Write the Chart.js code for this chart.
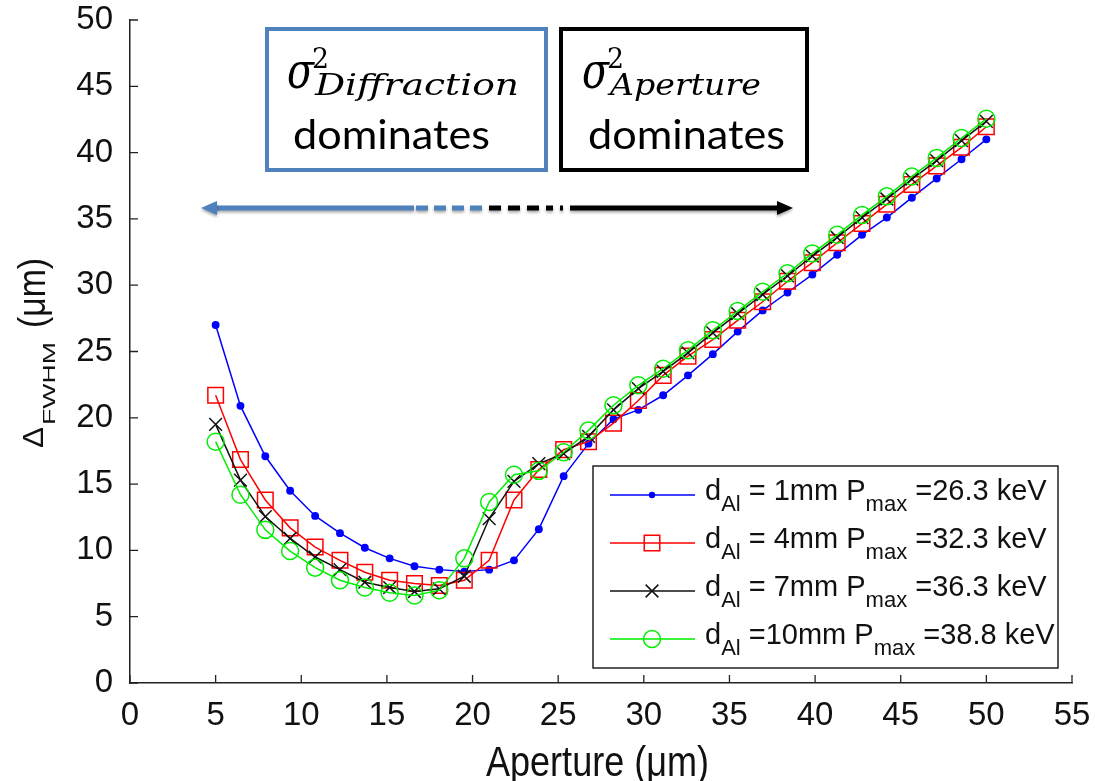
<!DOCTYPE html>
<html lang="en">
<head>
  <meta charset="UTF-8">
  <title>FWHM vs Aperture</title>
  <script src="https://cdn.jsdelivr.net/npm/chart.js"></script>
  <style>
    body { margin: 0; background: #fff; }
    canvas { display: block; }
  </style>
</head>
<body>
  <canvas id="fwhmChart" width="1095" height="781"></canvas>

  <script>
    // aperture values (um)
    const apertures = [5, 6.45, 7.9, 9.35, 10.81, 12.26, 13.71, 15.16, 16.61, 18.06, 19.52, 20.97,
      22.42, 23.87, 25.32, 26.77, 28.23, 29.68, 31.13, 32.58, 34.03, 35.48, 36.94, 38.39,
      39.84, 41.29, 42.74, 44.19, 45.65, 47.1, 48.55, 50];

    // FWHM (um) for each Al filter thickness
    const fwhm1mm = [27.0, 20.9, 17.1, 14.5, 12.6, 11.3, 10.2, 9.4, 8.8, 8.55, 8.4, 8.55,
      9.25, 11.6, 15.6, 18.05, 19.9, 20.6, 21.7, 23.2, 24.8, 26.5, 28.1, 29.45,
      30.8, 32.3, 33.8, 35.1, 36.6, 38.05, 39.5, 41.0];
    const fwhm4mm = [21.7, 16.85, 13.8, 11.7, 10.25, 9.25, 8.35, 7.75, 7.5, 7.35, 7.75, 9.25,
      13.8, 16.1, 17.6, 18.2, 19.6, 21.3, 23.2, 24.65, 25.9, 27.35, 28.75, 30.3,
      31.7, 33.2, 34.65, 36.1, 37.6, 39.0, 40.4, 41.95];
    const fwhm7mm = [19.5, 15.3, 12.55, 10.9, 9.5, 8.55, 7.6, 7.2, 6.9, 7.1, 8.05, 12.4,
      15.2, 16.55, 17.3, 18.6, 20.6, 22.2, 23.5, 24.9, 26.4, 27.85, 29.3, 30.7,
      32.2, 33.6, 35.1, 36.5, 38.0, 39.4, 40.9, 42.35];
    const fwhm10mm = [18.2, 14.2, 11.55, 9.95, 8.7, 7.75, 7.2, 6.8, 6.6, 7.0, 9.4, 13.65,
      15.7, 16.0, 17.4, 19.05, 20.95, 22.45, 23.7, 25.1, 26.6, 28.05, 29.5, 30.9,
      32.4, 33.8, 35.3, 36.7, 38.2, 39.6, 41.1, 42.55];

    // legend text pieces
    const legendThickness = ['= 1mm', '= 4mm', '= 7mm', '=10mm'];
    const legendPmax = ['=26.3 keV', '=32.3 keV', '=36.3 keV', '=38.8 keV'];

    const xTicks = { min: 0, max: 55, step: 5 };
    const yTicks = { min: 0, max: 50, step: 5 };

    const NARROW = "'Liberation Sans Narrow', 'Liberation Sans', Arial, sans-serif";
    const SANS = "'Liberation Sans', Arial, sans-serif";
    const SERIF = "'DejaVu Serif', 'Liberation Serif', serif";
    const CALI = "Lato, 'Open Sans', sans-serif";
    const BOXBLUE = '#4f81bd';

    const toPoints = ys => apertures.map((x, i) => ({ x: x, y: ys[i] }));

    const series = [
      { data: fwhm1mm, color: '#0000ff', style: 'circle', radius: 3.2, fill: true, order: 4 },
      { data: fwhm4mm, color: '#ff0000', style: 'rect', radius: 11, fill: false, order: 3 },
      { data: fwhm7mm, color: '#111111', style: 'crossRot', radius: 9, fill: false, order: 2 },
      { data: fwhm10mm, color: '#00ee00', style: 'circle', radius: 8.5, fill: false, order: 1 }
    ];

    // draw text squeezed / stretched horizontally to a given width
    function fitText(ctx, text, x, y, w) {
      const m = ctx.measureText(text).width;
      ctx.save();
      ctx.translate(x, y);
      ctx.scale(w / m, 1);
      ctx.fillText(text, 0, 0);
      ctx.restore();
    }

    function marker(ctx, s, x, y) {
      ctx.save();
      ctx.strokeStyle = s.color;
      ctx.fillStyle = s.color;
      ctx.lineWidth = 1.5;
      ctx.beginPath();
      if (s.style === 'circle') {
        ctx.arc(x, y, s.radius, 0, Math.PI * 2);
        if (s.fill) ctx.fill(); else ctx.stroke();
      } else if (s.style === 'rect') {
        const h = s.radius * Math.SQRT1_2;
        ctx.rect(x - h, y - h, 2 * h, 2 * h);
        ctx.stroke();
      } else {
        const h = s.radius * Math.SQRT1_2;
        ctx.moveTo(x - h, y - h); ctx.lineTo(x + h, y + h);
        ctx.moveTo(x - h, y + h); ctx.lineTo(x + h, y - h);
        ctx.stroke();
      }
      ctx.restore();
    }

    const decor = {
      id: 'decor',
      afterDraw(chart) {
        const ctx = chart.ctx;
        const xs = chart.scales.x, ys = chart.scales.y;
        const area = chart.chartArea;

        // inward tick marks
        ctx.save();
        ctx.strokeStyle = '#222';
        ctx.lineWidth = 1.3;
        ctx.beginPath();
        xs.ticks.forEach(t => {
          const px = xs.getPixelForValue(t.value);
          ctx.moveTo(px, area.bottom);
          ctx.lineTo(px, area.bottom - 8);
        });
        ys.ticks.forEach(t => {
          const py = ys.getPixelForValue(t.value);
          ctx.moveTo(area.left, py);
          ctx.lineTo(area.left + 8, py);
        });
        ctx.stroke();
        ctx.restore();

        // axis titles
        ctx.save();
        ctx.fillStyle = '#111';
        ctx.textBaseline = 'alphabetic';
        ctx.font = '42px ' + SANS;
        fitText(ctx, 'Aperture (\u03bcm)', 486, 776, 223);

        ctx.translate(43, 448);
        ctx.rotate(-Math.PI / 2);
        ctx.font = '29px ' + SANS;
        fitText(ctx, '\u0394', 0, 0, 21);
        ctx.font = '17px ' + SANS;
        fitText(ctx, 'FWHM', 23, 12, 83);
        ctx.font = '38px ' + SANS;
        fitText(ctx, '(\u03bcm)', 120, 2, 70);
        ctx.restore();

        // legend
        ctx.save();
        ctx.fillStyle = '#fff';
        ctx.fillRect(593, 466, 465, 202);
        ctx.strokeStyle = '#222';
        ctx.lineWidth = 1.5;
        ctx.strokeRect(593, 466, 465, 202);
        series.forEach((s, i) => {
          const ly = 495 + i * 48;
          ctx.strokeStyle = s.color;
          ctx.lineWidth = 1.5;
          ctx.beginPath();
          ctx.moveTo(610, ly);
          ctx.lineTo(695, ly);
          ctx.stroke();
          marker(ctx, s, 652, ly);

          const base = ly + 5;
          ctx.fillStyle = '#111';
          let x = 705;
          ctx.font = '29px ' + SANS;
          ctx.fillText('d', x, base);
          x += ctx.measureText('d').width;
          ctx.font = '22px ' + SANS;
          ctx.fillText('Al', x, base + 11);
          x += ctx.measureText('Al').width;
          ctx.font = '29px ' + SANS;
          const mid = ' ' + legendThickness[i] + ' P';
          ctx.fillText(mid, x, base);
          x += ctx.measureText(mid).width;
          ctx.font = '22px ' + SANS;
          ctx.fillText('max', x, base + 11);
          x += ctx.measureText('max').width;
          ctx.font = '29px ' + SANS;
          ctx.fillText(' ' + legendPmax[i], x, base);
        });
        ctx.restore();

        // annotation boxes
        ctx.save();
        ctx.lineWidth = 4;
        ctx.strokeStyle = BOXBLUE;
        ctx.strokeRect(267, 29, 279, 141);
        ctx.strokeStyle = '#000';
        ctx.strokeRect(561, 29, 246, 141);

        ctx.fillStyle = '#000';
        const boxText = (left, sub, subW) => {
          ctx.font = 'italic 50px ' + SERIF;
          fitText(ctx, '\u03c3', left, 88, 27);
          ctx.font = '28px ' + SERIF;
          fitText(ctx, '2', left + 25, 68, 17);
          ctx.font = 'italic 30px ' + SERIF;
          fitText(ctx, sub, left + 28, 95, subW);
          ctx.font = '41px ' + CALI;
          fitText(ctx, 'dominates', left + 6, 149, 197);
        };
        boxText(287, 'Diffraction', 204);
        boxText(582, 'Aperture', 151);

        // arrows
        ctx.shadowColor = 'rgba(0,0,0,0.35)';
        ctx.shadowBlur = 3;
        ctx.shadowOffsetY = 2;
        const ay = 208;
        ctx.lineWidth = 5;
        ctx.strokeStyle = BOXBLUE;
        ctx.fillStyle = BOXBLUE;
        ctx.beginPath();
        ctx.moveTo(214, ay); ctx.lineTo(414, ay);
        ctx.stroke();
        ctx.beginPath();
        ctx.setLineDash([12, 6]);
        ctx.moveTo(416, ay); ctx.lineTo(488, ay);
        ctx.stroke();
        ctx.setLineDash([]);
        ctx.beginPath();
        ctx.moveTo(201, ay); ctx.lineTo(217, ay - 7); ctx.lineTo(217, ay + 7); ctx.closePath();
        ctx.fill();

        ctx.strokeStyle = '#000';
        ctx.fillStyle = '#000';
        ctx.beginPath();
        ctx.setLineDash([12, 7, 12, 7, 12, 7, 7, 7]);
        ctx.moveTo(489, ay); ctx.lineTo(563, ay);
        ctx.stroke();
        ctx.setLineDash([]);
        ctx.beginPath();
        ctx.moveTo(570, ay); ctx.lineTo(780, ay);
        ctx.stroke();
        ctx.beginPath();
        ctx.moveTo(793, ay); ctx.lineTo(777, ay - 7); ctx.lineTo(777, ay + 7); ctx.closePath();
        ctx.fill();
        ctx.restore();
      }
    };

    const tickFont = { family: NARROW, size: 33 };

    new Chart(document.getElementById('fwhmChart').getContext('2d'), {
      type: 'line',
      data: {
        datasets: series.map(s => ({
          data: toPoints(s.data),
          borderColor: s.color,
          borderWidth: 1.5,
          pointStyle: s.style,
          pointRadius: s.radius,
          pointBorderWidth: 1.5,
          pointBorderColor: s.color,
          pointBackgroundColor: s.fill ? s.color : 'rgba(0,0,0,0)',
          tension: 0,
          fill: false,
          order: s.order
        }))
      },
      options: {
        responsive: false,
        animation: false,
        layout: { padding: { top: 20, right: 23, left: 0, bottom: 0 } },
        plugins: { legend: { display: false }, tooltip: { enabled: false } },
        scales: {
          x: {
            type: 'linear',
            min: xTicks.min,
            max: xTicks.max,
            ticks: { stepSize: xTicks.step, font: tickFont, color: '#111', padding: 13, maxRotation: 0 },
            grid: { drawOnChartArea: false, drawTicks: false },
            border: { color: '#222', width: 1.5 },
            afterFit: s => { s.height = 98; s.paddingLeft = 0; s.paddingRight = 0; }
          },
          y: {
            min: yTicks.min,
            max: yTicks.max,
            ticks: { stepSize: yTicks.step, font: tickFont, color: '#111', padding: 17 },
            grid: { drawOnChartArea: false, drawTicks: false },
            border: { color: '#222', width: 1.5 },
            afterFit: s => { s.width = 130; s.paddingTop = 0; s.paddingBottom = 0; }
          }
        }
      },
      plugins: [decor]
    });
  </script>
</body>
</html>
